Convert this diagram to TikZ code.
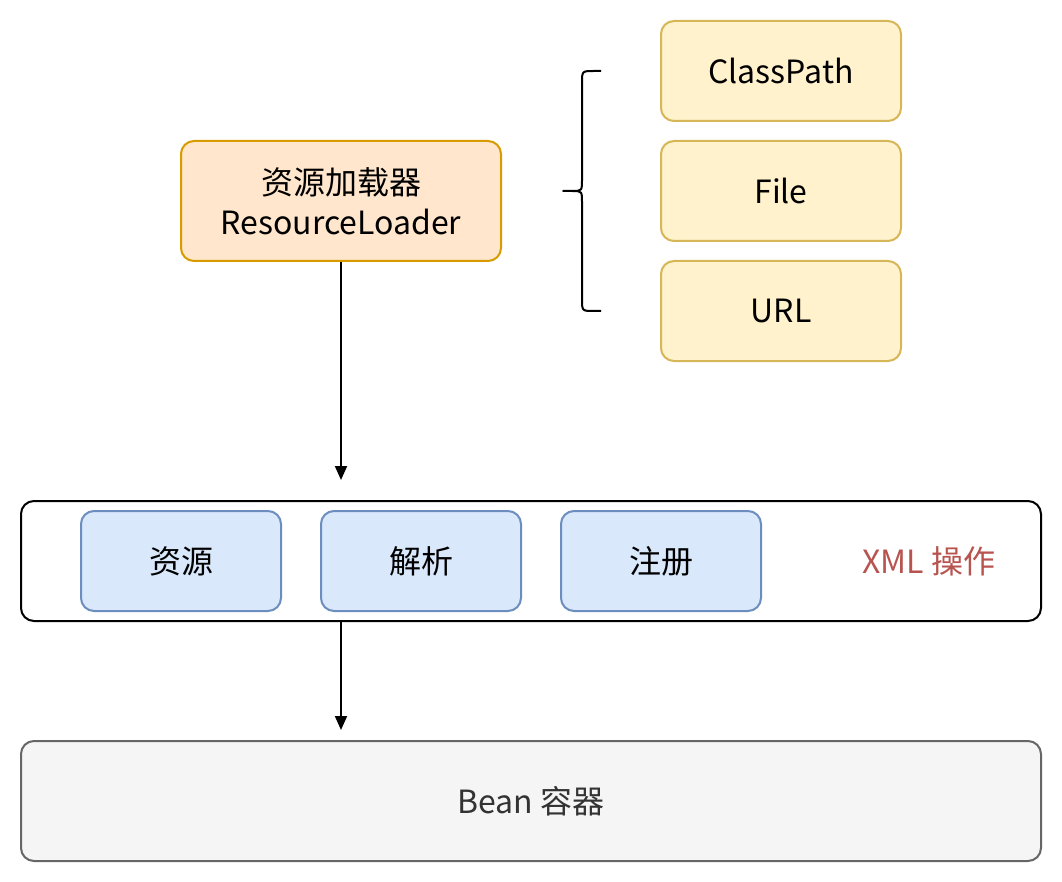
\documentclass[tikz,border=0pt]{standalone}
\usepackage{fontspec}
\setmainfont{Noto Sans CJK SC}
\usetikzlibrary{arrows.meta}
\definecolor{orfill}{HTML}{FFE6CC}
\definecolor{ordraw}{HTML}{D79B00}
\definecolor{yefill}{HTML}{FFF2CC}
\definecolor{yedraw}{HTML}{D6B656}
\definecolor{blfill}{HTML}{DAE8FC}
\definecolor{bldraw}{HTML}{6C8EBF}
\definecolor{grfill}{HTML}{F5F5F5}
\definecolor{grdraw}{HTML}{666666}
\definecolor{grtext}{HTML}{333333}
\definecolor{redtext}{HTML}{B85450}
\begin{document}
\begin{tikzpicture}[x=1pt,y=-1pt,
  box/.style={draw,line width=2pt,rounded corners=13pt,font=\fontsize{32}{40}\selectfont,align=center,inner sep=0pt},
  orbox/.style={box,draw=ordraw,fill=orfill,minimum width=320pt,minimum height=120pt},
  yebox/.style={box,draw=yedraw,fill=yefill,minimum width=240pt,minimum height=100pt},
  blbox/.style={box,draw=bldraw,fill=blfill,minimum width=200pt,minimum height=100pt},
  wide/.style={box,minimum width=1020pt,minimum height=120pt},
  conn/.style={line width=2pt,-{Triangle[length=14pt,width=12pt]}}]
\useasboundingbox (0,0) rectangle (1062,882);
\node[orbox] (rl) at (341,201) {资源加载器\\ResourceLoader};
\node[yebox] (cp) at (781,71) {ClassPath};
\node[yebox] (fi) at (781,191) {File};
\node[yebox] (ur) at (781,311) {URL};
\node[wide,draw=black,fill=white] (xml) at (531,561) {};
\node[blbox] (zy) at (181,561) {资源};
\node[blbox] (jx) at (421,561) {解析};
\node[blbox] (zc) at (661,561) {注册};
\node[font=\fontsize{32}{36}\selectfont,text=redtext] (xl) at (929,561) {XML 操作};
\node[wide,draw=grdraw,fill=grfill,text=grtext] (bean) at (531,801) {Bean 容器};
\coordinate (b1) at (341,480);
\coordinate (b2) at (341,730);
\draw[conn] (rl.south) -- (b1);
\draw[conn] (xml.south -| b2) -- (b2);
\coordinate (bt) at (601,71);
\coordinate (bm) at (563,191);
\coordinate (bb) at (601,311);
\draw[line width=2pt,line join=round] (bt) -- (594,71) .. controls (582,71) .. (582,83) -- (582,179) .. controls (582,191) .. (572,191) -- (bm) -- (572,191) .. controls (582,191) .. (582,203) -- (582,299) .. controls (582,311) .. (594,311) -- (bb);
\end{tikzpicture}
\end{document}
